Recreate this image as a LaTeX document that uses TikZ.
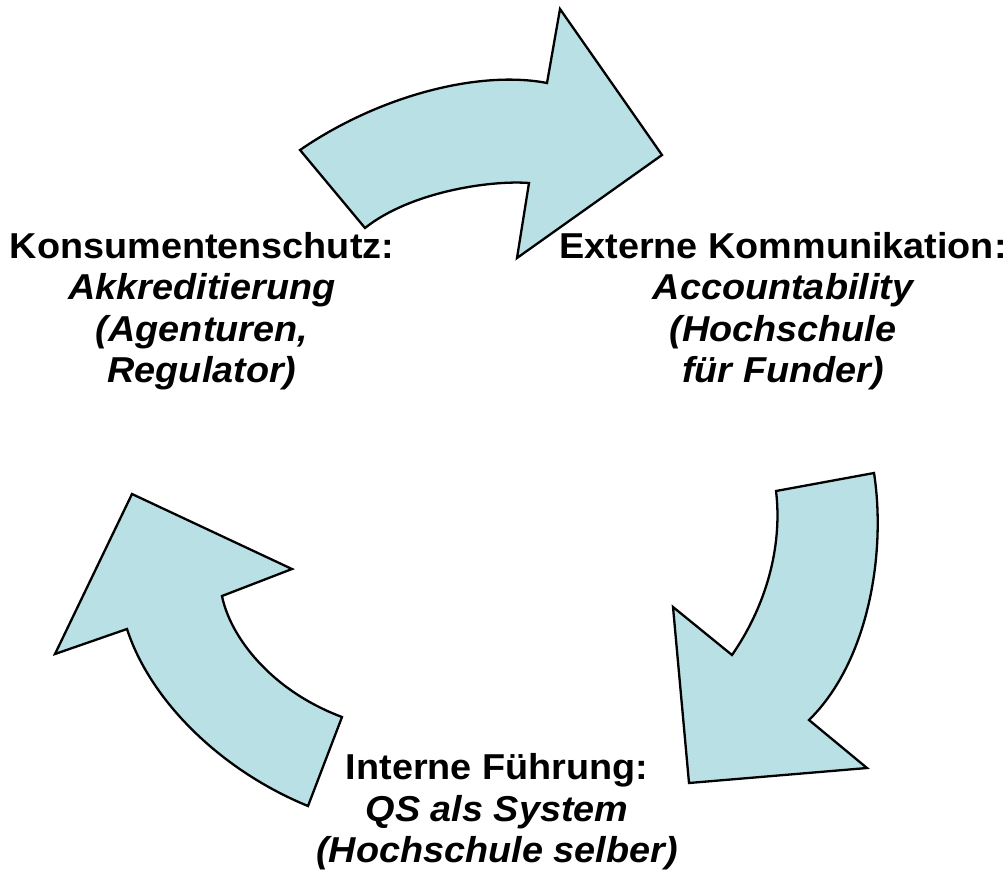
\documentclass[tikz,border=0pt]{standalone}
\usepackage{fontspec}
\setmainfont[FakeStretch=1.05]{Liberation Sans}
\definecolor{arrowfill}{RGB}{185,224,228}
\tikzset{
  bigarrow/.style={draw=black, line width=2.3pt, fill=arrowfill, line join=miter},
  label/.style={align=center, inner sep=0pt, font=\fontsize{36}{41.5}\selectfont\bfseries}
}
\begin{document}
\begin{tikzpicture}[x=1pt,y=-1pt]
\useasboundingbox (0,0) rectangle (1008,875);
% top arrow
\path[bigarrow] (365,228) -- (300,150) .. controls (380,95) and (480,70) .. (547,83)
  -- (560,9) -- (662,155) -- (517,258) -- (529,183)
  .. controls (490,180) and (410,192) .. (365,228) -- cycle;
% right arrow
\path[bigarrow] (776,491) -- (874,473) .. controls (886,550) and (870,660) .. (809,720)
  -- (867,768) -- (689,783) -- (673,607) -- (732,655)
  .. controls (770,600) and (782,540) .. (776,491) -- cycle;
% left arrow
\path[bigarrow] (308,806) -- (342,717) .. controls (270,690) and (230,636) .. (222,596)
  -- (292,569) -- (132,494) -- (55,654) -- (127,629)
  .. controls (150,700) and (220,770) .. (308,806) -- cycle;
% labels
\node[label] (konsum) at (202,311) {Konsumentenschutz:\\ \itshape Akkreditierung\\ \itshape (Agenturen,\\ \itshape Regulator)};
\node[label] (extern) at (783,311) {Externe Kommunikation:\\ \itshape Accountability\\ \itshape (Hochschule\\ \itshape f\"ur Funder)};
\node[label] (intern) at (497,812) {Interne F\"uhrung:\\ \itshape QS als System\\ \itshape (Hochschule selber)};
\end{tikzpicture}
\end{document}
